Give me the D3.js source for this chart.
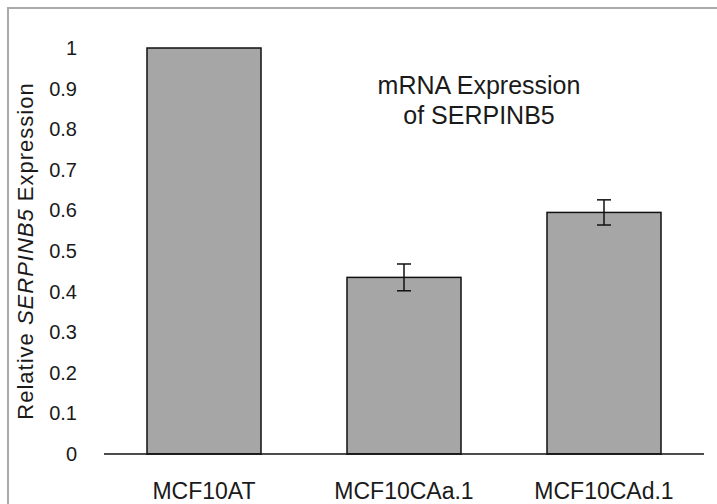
<!DOCTYPE html>
<html>
<head>
<meta charset="utf-8">
<script src="https://cdn.jsdelivr.net/npm/d3@7"></script>
<style>
  body { margin: 0; background: #fff; }
  text { font-family: "Liberation Sans", Arial, sans-serif; fill: #1a1a1a; }
</style>
</head>
<body>
<script>
const width = 717;
const height = 504;

// values
const categories = ["MCF10AT", "MCF10CAa.1", "MCF10CAd.1"];
const values = [1, 0.435, 0.595];
const errors = [0, 0.033, 0.031];
const yTicks = [0, 0.1, 0.2, 0.3, 0.4, 0.5, 0.6, 0.7, 0.8, 0.9, 1];

const plot_left = 104;
const plot_right = 704;
const plot_top = 48;
const plot_bottom = 454;
const bar_fill = "#a6a6a6";
const cap_half = 7;

const svg = d3.select("body").append("svg")
    .attr("width", width)
    .attr("height", height);

// light grey frame round the chart area (runs off the right and bottom)
svg.append("rect")
    .attr("x", 8)
    .attr("y", 8)
    .attr("width", width + 20)
    .attr("height", height + 20)
    .attr("fill", "none")
    .attr("stroke", "#aaaaaa")
    .attr("stroke-width", 2);

const x = d3.scaleBand()
    .domain(categories)
    .range([plot_left, plot_right])
    .paddingInner(0.43)
    .paddingOuter(0.215);

const y = d3.scaleLinear()
    .domain([0, 1])
    .range([plot_bottom, plot_top]);

const data = categories.map((c, i) => ({name: c, value: values[i], err: errors[i]}));

// y axis: labels only, no line
const yAxis = svg.append("g")
    .attr("transform", `translate(${plot_left},0)`)
    .call(d3.axisLeft(y).tickValues(yTicks).tickSize(0).tickPadding(27).tickFormat(d => String(d)));
yAxis.select(".domain").remove();
yAxis.selectAll("text")
    .style("font-size", "20px")
    .attr("font-family", null)
    .attr("fill", null);

// bars
svg.selectAll(".bar")
    .data(data)
    .enter()
    .append("rect")
    .attr("class", "bar")
    .attr("x", d => x(d.name))
    .attr("y", d => y(d.value))
    .attr("width", x.bandwidth())
    .attr("height", d => y(0) - y(d.value))
    .attr("fill", bar_fill)
    .attr("stroke", "#111")
    .attr("stroke-width", 1.5);

// baseline
svg.append("line")
    .attr("x1", plot_left)
    .attr("x2", plot_right)
    .attr("y1", y(0))
    .attr("y2", y(0))
    .attr("stroke", "#111")
    .attr("stroke-width", 1.5);

// error bars
const eb = svg.selectAll(".err")
    .data(data.filter(d => d.err > 0))
    .enter()
    .append("g")
    .attr("class", "err")
    .attr("stroke", "#111")
    .attr("stroke-width", 1.5);

eb.append("line")
    .attr("x1", d => x(d.name) + x.bandwidth() / 2)
    .attr("x2", d => x(d.name) + x.bandwidth() / 2)
    .attr("y1", d => y(d.value + d.err))
    .attr("y2", d => y(d.value - d.err));

[1, -1].forEach(s => {
    eb.append("line")
        .attr("x1", d => x(d.name) + x.bandwidth() / 2 - cap_half)
        .attr("x2", d => x(d.name) + x.bandwidth() / 2 + cap_half)
        .attr("y1", d => y(d.value + s * d.err))
        .attr("y2", d => y(d.value + s * d.err));
});

// category labels
svg.selectAll(".xlab")
    .data(categories)
    .enter()
    .append("text")
    .attr("x", d => x(d) + x.bandwidth() / 2)
    .attr("y", 499)
    .attr("text-anchor", "middle")
    .style("font-size", "23px")
    .text(d => d);

// y axis title, gene name in italics
const ytitle = svg.append("text")
    .attr("transform", "translate(33,251) rotate(-90)")
    .attr("text-anchor", "middle")
    .style("font-size", "22px")
    .style("letter-spacing", "1px");
ytitle.append("tspan").text("Relative ");
ytitle.append("tspan").style("font-style", "italic").text("SERPINB5");
ytitle.append("tspan").text(" Expression");

// title inside the plot
const title = svg.append("text")
    .attr("text-anchor", "middle")
    .style("font-size", "25px");
title.append("tspan").attr("x", 479).attr("y", 94).text("mRNA Expression");
title.append("tspan").attr("x", 479).attr("y", 124).text("of SERPINB5");
</script>
</body>
</html>
